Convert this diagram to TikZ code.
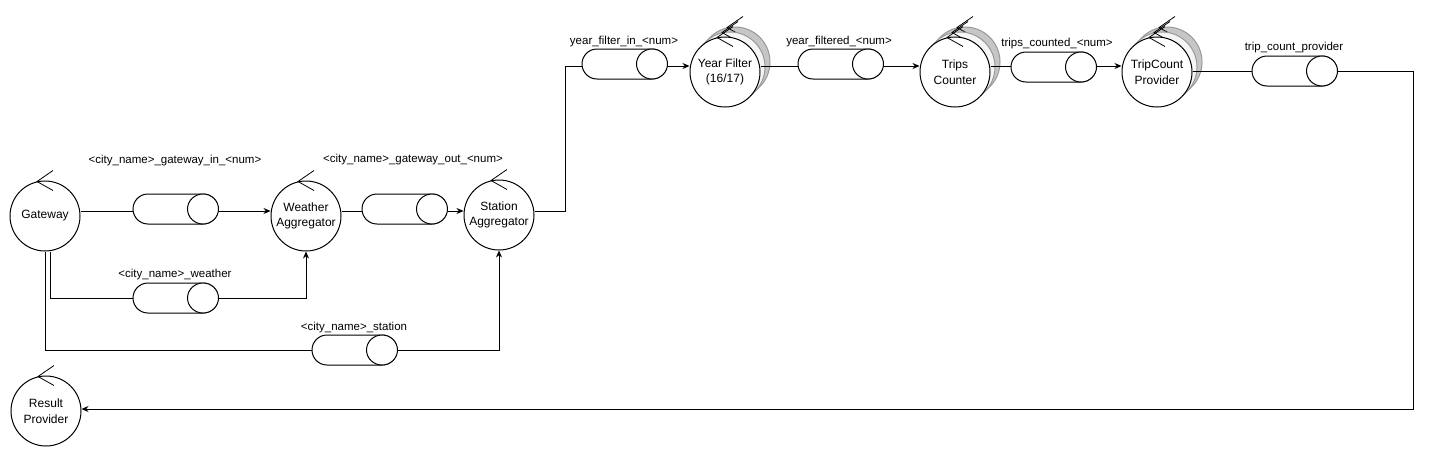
\documentclass[tikz,border=0pt]{standalone}
\usepackage{fontspec}
\setmainfont{Liberation Sans}
\usetikzlibrary{shapes.geometric,arrows.meta}
\newcommand\ctlmark[1]{\draw[ctl] ([shift={(8,-10)}]#1.north) -- ([shift={(-8,1)}]#1.north) -- ([shift={(8,10)}]#1.north);}
\newcommand\qend[1]{\node[qcap] (#1e) at ([xshift=-15.5pt]#1.east) {};}
\begin{document}
\begin{tikzpicture}[x=1pt,y=-1pt, line width=1pt,
  proc/.style={circle, draw, fill=white, minimum size=70pt, inner sep=0pt, align=center, font=\fontsize{12}{15.5}\selectfont},
  shadeA/.style={circle, draw=gray!80, fill=gray!45, minimum size=70pt, inner sep=0pt},
  shadeB/.style={circle, draw=gray!80, fill=gray!8, minimum size=70pt, inner sep=0pt},
  queue/.style={rectangle, rounded corners=15pt, draw, fill=white, minimum width=85pt, minimum height=30pt, inner sep=0pt},
  qcap/.style={ellipse, draw, fill=white, minimum width=31pt, minimum height=30pt, inner sep=0pt},
  qlabel/.style={font=\fontsize{11.5}{13}\selectfont, inner sep=0pt},
  flow/.style={-{Stealth[length=7pt,width=6pt]}},
  ctl/.style={line width=0.8pt}
]
\useasboundingbox (0,0) rectangle (1435,458);

% processes
\node[proc] (gw) at (45,216) {Gateway}; \ctlmark{gw}
\node[proc] (wa) at (306,216) {Weather\\Aggregator}; \ctlmark{wa}
\node[proc] (sa) at (499,215) {Station\\Aggregator}; \ctlmark{sa}
\node[proc] (rp) at (46,411) {Result\\Provider}; \ctlmark{rp}

\node[shadeA] (yfb) at (735,62) {}; \ctlmark{yfb}
\node[shadeB] (yfm) at (730,67) {}; \ctlmark{yfm}
\node[proc] (yf) at (725,72) {Year Filter\\(16/17)}; \ctlmark{yf}

\node[shadeA] (tcb) at (965,62) {}; \ctlmark{tcb}
\node[shadeB] (tcm) at (960,67) {}; \ctlmark{tcm}
\node[proc] (tc) at (955,72) {Trips\\Counter}; \ctlmark{tc}

\node[shadeA] (tpb) at (1167,62) {}; \ctlmark{tpb}
\node[shadeB] (tpm) at (1162,67) {}; \ctlmark{tpm}
\node[proc] (tp) at (1157,72) {TripCount\\Provider}; \ctlmark{tp}

% queues
\node[queue] (q1) at (175.5,209) {}; \qend{q1}
\node[queue] (q2) at (404.5,209) {}; \qend{q2}
\node[queue] (q3) at (175.5,298) {}; \qend{q3}
\node[queue] (q4) at (354.5,350) {}; \qend{q4}
\node[queue] (q5) at (624.5,64) {}; \qend{q5}
\node[queue] (q6) at (840.5,64) {}; \qend{q6}
\node[queue] (q7) at (1053.5,67) {}; \qend{q7}
\node[queue] (q8) at (1294.5,71) {}; \qend{q8}

% labels
\node[qlabel] (l1) at (175,161) {<city\_name>\_gateway\_in\_<num>};
\node[qlabel] (l2) at (413,160) {<city\_name>\_gateway\_out\_<num>};
\node[qlabel] (l3) at (175,275) {<city\_name>\_weather};
\node[qlabel] (l4) at (354,328) {<city\_name>\_station};
\node[qlabel] (l5) at (624,42) {year\_filter\_in\_<num>};
\node[qlabel] (l6) at (839,42) {year\_filtered\_<num>};
\node[qlabel] (l7) at (1057,44) {trips\_counted\_<num>};
\node[qlabel] (l8) at (1294,48) {trip\_count\_provider};

% connectors
\coordinate (y1) at (0,211);
\coordinate (y2) at (0,66);
\draw (gw.east |- y1) -- (q1.west |- y1);
\draw[flow] (q1.east |- y1) -- (y1 -| wa.west);
\draw (wa.east |- y1) -- (q2.west |- y1);
\draw[flow] (q2.east |- y1) -- (y1 -| sa.west);
\draw ([xshift=5pt]gw.south) |- (q3.west);
\draw[flow] (q3.east) -| (wa.south);
\draw (gw.south) |- (q4.west);
\draw[flow] (q4.east) -| (sa.south);
\coordinate (up) at (565,211);
\draw (sa.east |- up) -- (up) |- (q5.west |- y2);
\draw[flow] (q5.east |- y2) -- (y2 -| yf.west);
\draw (yf.east |- y2) -- (q6.west |- y2);
\draw[flow] (q6.east |- y2) -- (y2 -| tc.west);
\draw (tc.east |- y2) -- (q7.west |- y2);
\draw[flow] (q7.east |- y2) -- (y2 -| tp.west);
\draw (tp.east |- q8.west) -- (q8.west);
\coordinate (rc) at (1413,409);
\draw[flow] (q8.east) -| (rc) -- (rc -| rp.east);
\end{tikzpicture}
\end{document}
